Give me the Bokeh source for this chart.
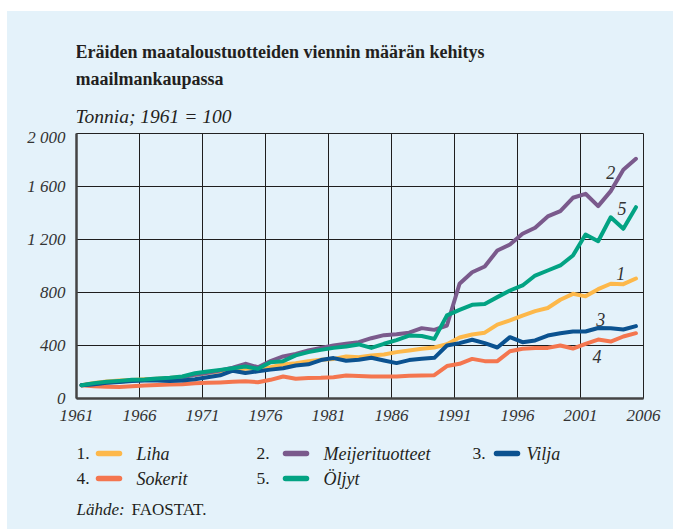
from bokeh.plotting import figure
from bokeh.layouts import column
from bokeh.models import Label, FixedTicker, Range1d
from bokeh.embed import file_html
from bokeh.resources import INLINE

# ---------------- data ----------------
years = list(range(1961, 2006))

liha = [100, 118, 128, 135, 140, 145, 150, 155, 165, 180,
        192, 205, 218, 225, 228, 236, 257, 267, 282, 292,
        299, 317, 312, 325, 332, 350, 362, 375, 385, 410,
        460, 483, 497, 558, 589, 626, 659, 683, 745, 790,
        771, 825, 866, 863, 906]

meijeri = [100, 110, 120, 128, 135, 140, 145, 150, 160, 180,
           195, 212, 232, 262, 236, 282, 317, 337, 362, 382,
           400, 413, 425, 455, 478, 485, 497, 531, 518, 551,
           866, 953, 996, 1117, 1162, 1243, 1289, 1374, 1414, 1515,
           1545, 1452, 1565, 1726, 1809]

vilja = [100, 108, 118, 125, 132, 135, 135, 132, 136, 145,
         160, 175, 210, 192, 205, 218, 228, 249, 258, 290,
         305, 285, 292, 307, 287, 267, 290, 300, 307, 400,
         418, 443, 418, 385, 463, 425, 438, 475, 493, 506,
         506, 532, 530, 521, 546]

sokerit = [100, 92, 88, 86, 92, 98, 102, 106, 108, 115,
           118, 121, 126, 130, 123, 141, 166, 149, 154, 156,
           161, 174, 169, 166, 166, 166, 172, 174, 176, 245,
           262, 299, 282, 282, 357, 375, 382, 382, 400, 377,
           413, 445, 430, 468, 493]

oljyt = [100, 116, 126, 133, 141, 143, 151, 156, 166, 191,
         204, 216, 229, 242, 224, 274, 282, 325, 350, 367,
         382, 392, 408, 382, 413, 440, 475, 472, 450, 627,
         669, 707, 714, 765, 815, 853, 928, 966, 1004, 1079,
         1238, 1187, 1368, 1281, 1444]

x_ticks = [1961, 1966, 1971, 1976, 1981, 1986, 1991, 1996, 2001, 2006]
y_ticks = [0, 400, 800, 1200, 1600, 2000]
y_tick_labels = ["0", "400", "800", "1 200", "1 600", "2 000"]

series_names = ["Liha", "Meijerituotteet", "Vilja", "Sokerit", "Öljyt"]
series_numbers = ["1.", "2.", "3.", "4.", "5."]

title_lines = ["Eräiden maataloustuotteiden viennin määrän kehitys", "maailmankaupassa"]
subtitle = "Tonnia; 1961 = 100"
source_a = "Lähde:"
source_b = "FAOSTAT."

# end labels: (text, year, value)
end_labels = [("2", 2003.4, 1709), ("5", 2004.3, 1432), ("1", 2004.2, 946),
              ("3", 2002.6, 594), ("4", 2002.3, 317)]

# ---------------- style / layout ----------------
BG = "#E4F2FA"
colors = ["#FDB84A", "#7A5A8C", "#0B5290", "#F4764F", "#02A383"]
SERIF = "Liberation Serif"
TXT = "#231F20"

LEFT, TOP = 7, 11                  # white margin of the page around the panel
W = 673 - LEFT
PX0, PX1 = 76, 643                 # plot frame, page pixels
FL, FR = PX0 - LEFT, W - (PX1 - LEFT)
HEAD_T, HEAD_B = TOP, 127
MAIN_TOP, FRAME_H, MAIN_BOT = 6, 265, 30
MAIN_H = MAIN_TOP + FRAME_H + MAIN_BOT
FOOT_T, FOOT_B = HEAD_B + MAIN_H, 529
X0, X1, Y0, Y1 = 1961, 2006, 0, 2000
XOFF = 0.4


def blank(top, bottom):
    f = figure(width=W, height=bottom - top, output_backend="svg", toolbar_location=None,
               x_range=Range1d(PX0, PX1), y_range=Range1d(bottom, top),
               x_axis_location=None, y_axis_location=None,
               min_border_left=FL, min_border_right=FR,
               min_border_top=0, min_border_bottom=0)
    f.background_fill_color = BG
    f.border_fill_color = BG
    f.outline_line_color = None
    f.xgrid.visible = False
    f.ygrid.visible = False
    return f


def put(f, px, py, text, size="18px", style="normal", color=TXT, align="left"):
    # py is the visual centre of the text line (page pixels)
    f.add_layout(Label(x=px, y=py, text=text, text_font=SERIF,
                       text_font_style=style, text_font_size=size,
                       text_color=color, text_align=align,
                       text_baseline="middle"))


# ---------------- header ----------------
head = blank(HEAD_T, HEAD_B)
put(head, PX0 - 1, 51, title_lines[0], size="18px", style="bold")
put(head, PX0 - 1, 78, title_lines[1], size="18px", style="bold")
put(head, PX0 - 1, 116, subtitle, size="19.5px", style="italic")

# ---------------- main chart ----------------
p = figure(width=W, height=MAIN_H, output_backend="svg", toolbar_location=None,
           x_range=Range1d(X0, X1), y_range=Range1d(Y0, Y1),
           min_border_left=FL, min_border_right=FR,
           min_border_top=MAIN_TOP, min_border_bottom=MAIN_BOT)
p.background_fill_color = BG
p.border_fill_color = BG
p.outline_line_color = "#222222"
p.outline_line_width = 1

p.xaxis.ticker = FixedTicker(ticks=x_ticks)
p.yaxis.ticker = FixedTicker(ticks=y_ticks)
p.yaxis.major_label_overrides = {t: l for t, l in zip(y_ticks, y_tick_labels)}
p.xgrid.ticker = FixedTicker(ticks=x_ticks)
p.ygrid.ticker = FixedTicker(ticks=y_ticks)
for g in (p.xgrid, p.ygrid):
    g.grid_line_color = "#1E1E1E"
    g.grid_line_width = 1
for ax in (p.xaxis, p.yaxis):
    ax.axis_line_color = "#444444"
    ax.axis_line_width = 2.5
    ax.major_tick_line_color = None
    ax.minor_tick_line_color = None
    ax.major_label_text_font = SERIF
    ax.major_label_text_font_style = "italic"
    ax.major_label_text_font_size = "17px"
    ax.major_label_text_color = "#333333"
p.yaxis.major_label_standoff = 5
p.xaxis.major_label_standoff = 5

draw_order = [3, 0, 1, 2, 4]
all_series = [liha, meijeri, vilja, sokerit, oljyt]
xs = [y + XOFF for y in years]
for i in draw_order:
    p.line(xs, all_series[i], line_width=4, line_color=colors[i],
           line_join="round", line_cap="round")

for t, lx, ly in end_labels:
    p.add_layout(Label(x=lx, y=ly, text=t, text_font=SERIF, text_font_style="italic",
                       text_font_size="18px", text_color="#333333",
                       text_align="center", text_baseline="middle"))

# ---------------- footer (legend + source) ----------------
foot = blank(FOOT_T, FOOT_B)
rows = [453, 478]
cols = [(76, 95, 136), (256, 282, 323), (472, 493, 526)]
slots = [(0, 0), (0, 1), (0, 2), (1, 0), (1, 1)]
for i, (r, c) in enumerate(slots):
    nx, sx, tx = cols[c]
    yc = rows[r]
    put(foot, nx, yc, series_numbers[i], size="17.5px")
    foot.line([sx + 3, sx + 24], [yc, yc],
              line_width=5.5, line_color=colors[i], line_cap="round")
    put(foot, tx, yc, series_names[i], size="18px", style="italic")

put(foot, 76, 509, source_a, size="17px", style="italic")
put(foot, 131, 509, source_b, size="17px")

layout = column(head, p, foot, spacing=0, margin=(TOP, 0, 0, LEFT),
                styles={"background-color": BG})
open("out.html", "w").write(file_html(layout, INLINE))
